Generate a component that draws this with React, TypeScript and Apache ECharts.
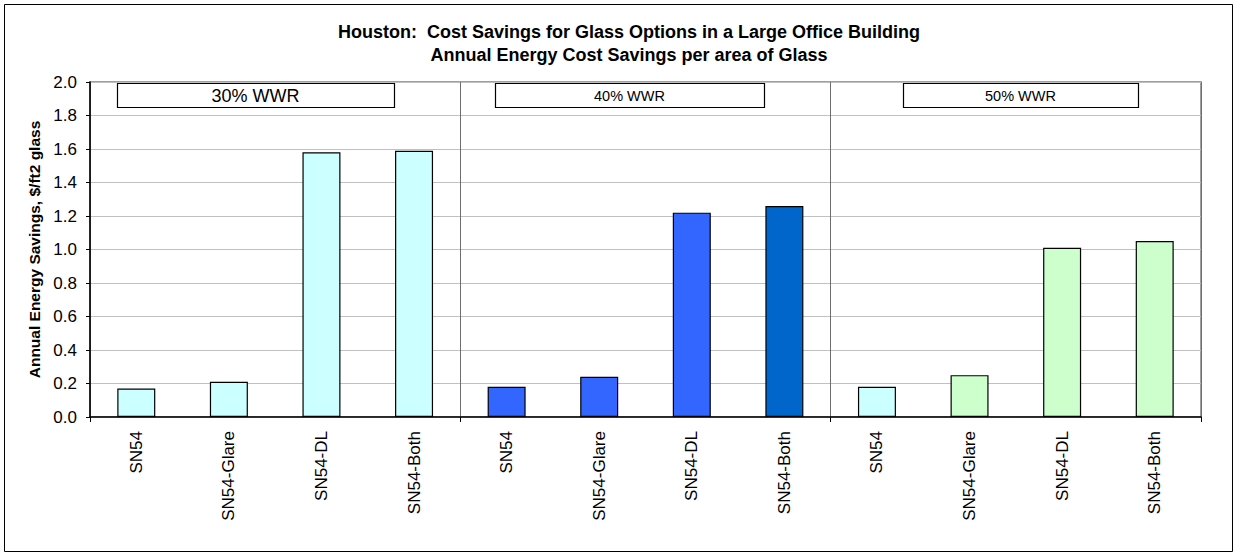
import React, { useEffect, useRef } from "react";
import * as echarts from "echarts";

// Glass options compared inside each window-to-wall ratio group
const glassOptions = ["SN54", "SN54-Glare", "SN54-DL", "SN54-Both"];
const wwrGroups = ["30% WWR", "40% WWR", "50% WWR"];

// Annual energy cost savings, $/ft2 of glass
const savings30 = [0.17, 0.21, 1.58, 1.59];
const savings40 = [0.18, 0.24, 1.22, 1.26];
const savings50 = [0.18, 0.25, 1.01, 1.05];

// Fill colours of the bars, group by group
const colors30 = ["#CCFFFF", "#CCFFFF", "#CCFFFF", "#CCFFFF"];
const colors40 = ["#3366FF", "#3366FF", "#3366FF", "#0066CC"];
const colors50 = ["#CCFFFF", "#CCFFCC", "#CCFFCC", "#CCFFCC"];

const yTicks = [0, 0.2, 0.4, 0.6, 0.8, 1.0, 1.2, 1.4, 1.6, 1.8, 2.0];

const FONT = "'Liberation Sans', Arial, sans-serif";

export default function App() {
  const ref = useRef<HTMLDivElement>(null);

  useEffect(() => {
    if (!ref.current) return;
    const chart = echarts.init(ref.current, undefined, { renderer: "svg" });

    const categories = [...glassOptions, ...glassOptions, ...glassOptions];
    const values = [...savings30, ...savings40, ...savings50];
    const colors = [...colors30, ...colors40, ...colors50];
    const perGroup = glassOptions.length;

    // group header boxes: [x, width, fontSize]
    const boxes: [number, number, number][] = [
      [117, 277, 18],
      [495, 269, 14.5],
      [903, 235, 14.5],
    ];

    chart.setOption({
      animation: false,
      backgroundColor: "#ffffff",
      textStyle: { fontFamily: FONT },
      title: [
        {
          text: "Houston:  Cost Savings for Glass Options in a Large Office Building",
          left: 624,
          top: 18,
          textAlign: "center",
          textStyle: { fontFamily: FONT, fontSize: 18, fontWeight: "bold", color: "#000" },
        },
        {
          text: "Annual Energy Cost Savings per area of Glass",
          left: 624,
          top: 41,
          textAlign: "center",
          textStyle: { fontFamily: FONT, fontSize: 18, fontWeight: "bold", color: "#000" },
        },
      ],
      grid: {
        left: 90,
        right: 37,
        top: 82,
        bottom: 140,
        show: true,
        borderColor: "#808080",
        borderWidth: 1.5,
        backgroundColor: "#ffffff",
      },
      xAxis: {
        type: "category",
        data: categories,
        axisLine: { lineStyle: { color: "#000", width: 1.5 } },
        axisTick: {
          show: true,
          length: 5,
          interval: (i: number) => i % perGroup === 0,
          lineStyle: { color: "#000" },
        },
        splitLine: {
          show: true,
          interval: (i: number) => i % perGroup === 0,
          lineStyle: { color: "#6e6e6e", width: 1 },
        },
        axisLabel: {
          interval: 0,
          rotate: 90,
          margin: 14,
          fontSize: 17,
          color: "#000",
          fontFamily: FONT,
        },
      },
      yAxis: {
        type: "value",
        min: yTicks[0],
        max: yTicks[yTicks.length - 1],
        interval: 0.2,
        name: "Annual Energy Savings, $/ft2 glass",
        nameLocation: "middle",
        nameGap: 48,
        nameTextStyle: { fontFamily: FONT, fontSize: 15.5, fontWeight: "bold", color: "#000" },
        axisLine: { show: true, lineStyle: { color: "#000", width: 1.5 } },
        axisTick: { show: true, length: 4, lineStyle: { color: "#000" } },
        splitLine: { show: true, lineStyle: { color: "#c0c0c0", width: 1 } },
        axisLabel: {
          margin: 13,
          fontSize: 17,
          color: "#000",
          fontFamily: FONT,
          formatter: (v: number) => v.toFixed(1),
        },
      },
      series: [
        {
          type: "bar",
          barWidth: 38,
          data: values.map((v, i) => ({
            value: v,
            itemStyle: { color: colors[i], borderColor: "#000", borderWidth: 1.2 },
          })),
        },
      ],
      graphic: [
        {
          type: "rect",
          shape: { x: 4.5, y: 4.5, width: 1228, height: 547 },
          style: { fill: "none", stroke: "#000", lineWidth: 1 },
          silent: true,
        },
        ...wwrGroups.map((label, g) => ({
          type: "group",
          children: [
            {
              type: "rect",
              shape: { x: boxes[g][0] + 0.5, y: 83.5, width: boxes[g][1], height: 24 },
              style: { fill: "#fff", stroke: "#000", lineWidth: 1.2 },
              z: 10,
            },
            {
              type: "text",
              x: boxes[g][0] + boxes[g][1] / 2,
              y: 96,
              z: 11,
              style: {
                text: label,
                fontFamily: FONT,
                fontSize: boxes[g][2],
                fill: "#000",
                textAlign: "center",
                textVerticalAlign: "middle",
              },
            },
          ],
        })),
      ],
    });

    return () => chart.dispose();
  }, []);

  return (
    <div
      ref={ref}
      style={{ position: "fixed", left: 0, top: 0, width: 1238, height: 557 }}
    />
  );
}
